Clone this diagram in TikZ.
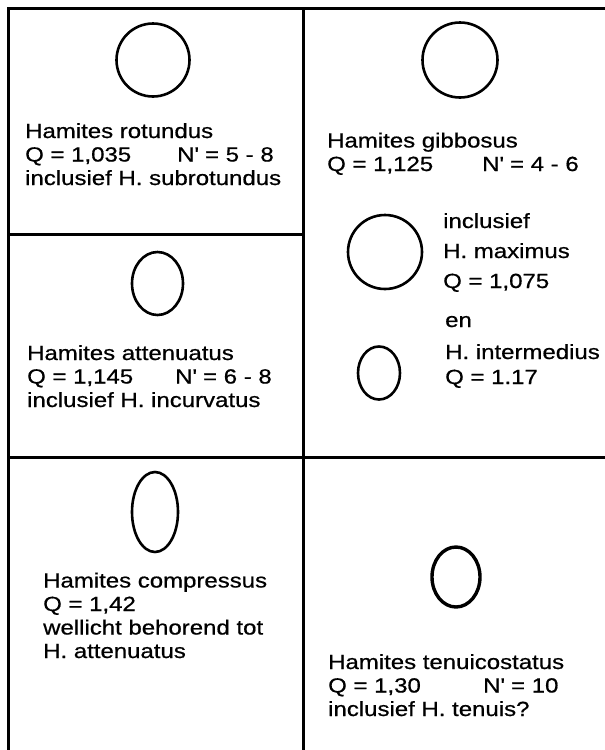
\documentclass[tikz,border=0pt]{standalone}
\usepackage{fontspec}
\setmainfont{Liberation Sans}[FakeStretch=1.17, FakeBold=0.7]
\usepackage{tikz}

\newcommand{\Nacc}{N\textquotesingle}

\begin{document}
\begin{tikzpicture}[x=1pt,y=-1pt,
  rand/.style={line width=3pt},
  doorsnede/.style={line width=2.6pt},
  tekst/.style={anchor=base west, align=left, inner sep=0pt,
    font=\fontsize{20.5}{23.5}\selectfont}]

\useasboundingbox (0,0) rectangle (605,750);

% Kader
\draw[rand] (8,8.5) -- (605,8.5);
\draw[rand] (8,7) -- (8,750);
\draw[rand] (303,7) -- (303,750);
\draw[rand] (8,234) -- (303,234);
\draw[rand] (8,457) -- (605,457);

% Doorsneden
\draw[doorsnede] (153,60) circle (36.5);
\draw[doorsnede] (460,60) circle (37.5);
\draw[doorsnede] (385,252) circle (37);
\draw[doorsnede] (379,373) ellipse (21 and 26.5);
\draw[doorsnede] (157.5,283.5) ellipse (25.5 and 31.5);
\draw[doorsnede] (155,512) ellipse (23 and 40);
\draw[doorsnede, line width=3.4pt] (456,577) ellipse (24 and 30);

% Teksten (ankerpunt = basislijn van de laatste regel)
\node[tekst] (rotundus) at (25,185)
  {Hamites\ rotundus\\
   \makebox[152pt][l]{Q = 1,035}\Nacc{} = 5 - 8\\
   inclusief H. subrotundus};
\node[tekst] (gibbosus) at (327,171)
  {Hamites gibbosus\\
   \makebox[155pt][l]{Q = 1,125}\Nacc{} = 4 - 6};
\node[tekst, font=\fontsize{20.5}{30}\selectfont] (maximus) at (443,288)
  {inclusief\\ H. maximus\\ Q = 1,075};
\node[tekst, font=\fontsize{20.5}{25}\selectfont] (intermedius) at (445,384)
  {en\\[7pt] H. intermedius\\ Q = 1.17};
\node[tekst] (attenuatus) at (27,407)
  {Hamites\ attenuatus\\
   \makebox[148pt][l]{Q = 1,145}\Nacc{} = 6 - 8\\
   inclusief H. incurvatus};
\node[tekst] (compressus) at (43,658)
  {Hamites compressus\\
   Q = 1,42\\
   wellicht behorend tot\\
   H. attenuatus};
\node[tekst] (tenuicostatus) at (328,716)
  {Hamites tenuicostatus\\
   \makebox[155pt][l]{Q = 1,30}\Nacc{} = 10\\
   inclusief H. tenuis?};

\end{tikzpicture}
\end{document}
